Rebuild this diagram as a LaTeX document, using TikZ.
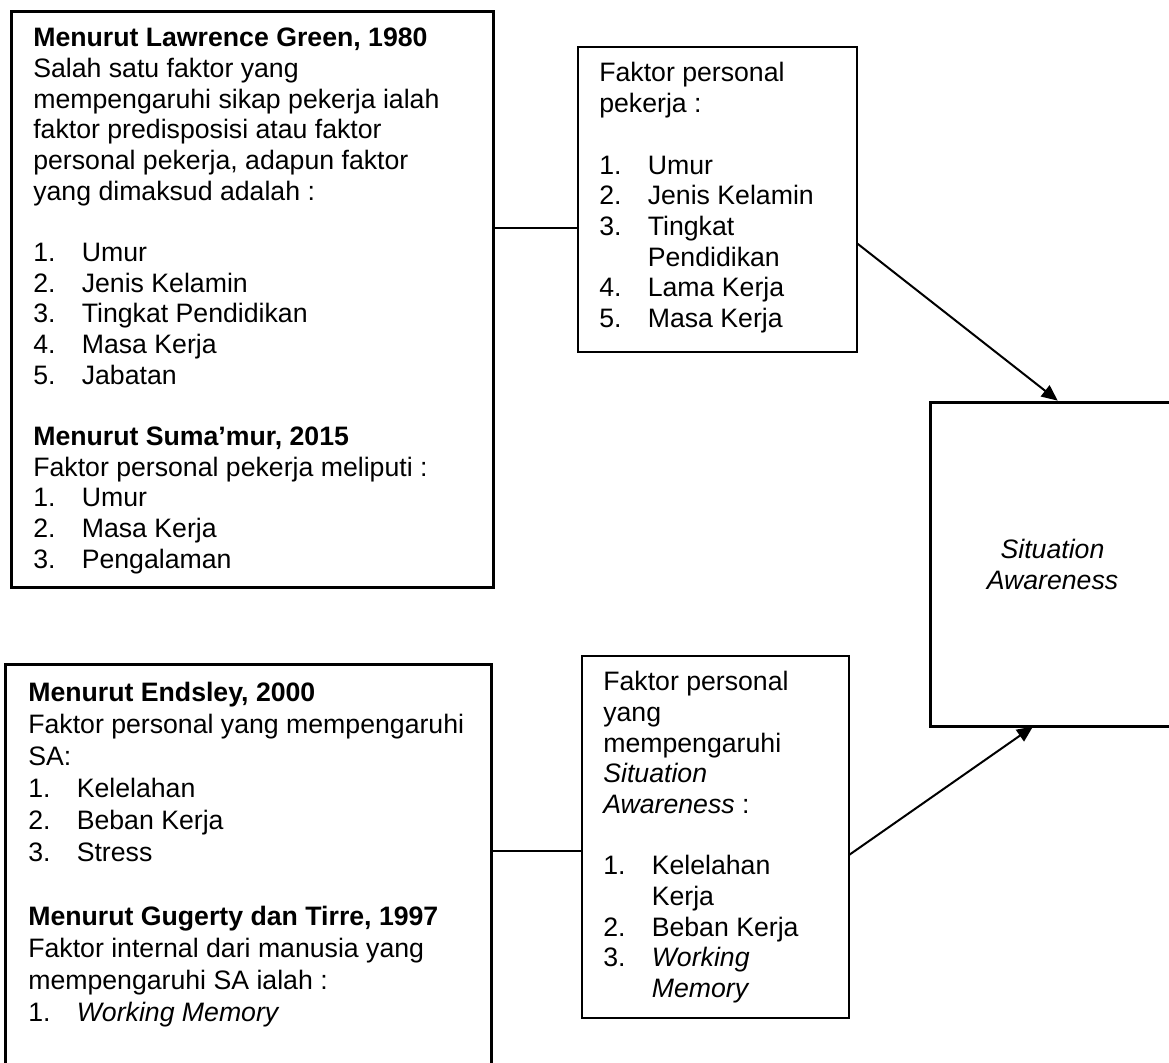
\documentclass[tikz,border=0pt]{standalone}
\usepackage{fontspec}
\setmainfont{Liberation Sans}
\usetikzlibrary{arrows.meta,calc}
\newcommand\litem[2]{\makebox[48.5pt][l]{#1}#2}
\begin{document}
\begin{tikzpicture}[x=1pt,y=-1pt,
  txt/.style={anchor=base west,inner sep=0pt,outer sep=0pt,font=\fontsize{26.67}{30.67}\selectfont},
  txtwide/.style={txt,font=\fontsize{26.67}{32}\selectfont},
  heavybox/.style={draw,rectangle,line width=3.6pt,inner sep=0pt,outer sep=0pt},
  lightbox/.style={draw,rectangle,line width=2.2pt,inner sep=0pt,outer sep=0pt},
  sabox/.style={draw,fill=white,rectangle,line width=3.2pt,inner sep=0pt,outer sep=0pt,align=center,font=\fontsize{26.67}{30.67}\selectfont},
  conn/.style={line width=2pt},
  arr/.style={line width=2pt,-{Triangle[length=16pt,width=14pt]}}]
\useasboundingbox (0,0) rectangle (1169,1062);
\clip (0,0) rectangle (1169,1062);
\fill[white] (0,0) rectangle (1169,1062);

% boxes
\node[heavybox,minimum width=482pt,minimum height=576pt] (boxA) at (252.5,299.5) {};
\node[lightbox,minimum width=279pt,minimum height=305pt] (boxB) at (717.5,199.5) {};
\node[heavybox,minimum width=486pt,minimum height=416pt] (boxC) at (248.5,872.5) {};
\node[lightbox,minimum width=267.3pt,minimum height=362pt] (boxD) at (715.35,837) {};

% connector levels
\coordinate (yab) at (0,228);
\coordinate (ybs) at (0,243.3);
\coordinate (ycd) at (0,851);
\coordinate (yds) at (0,855);

\draw[conn] (boxA.east |- yab) -- (boxB.west |- yab);
\draw[conn] (boxC.east |- ycd) -- (boxD.west |- ycd);

% Situation Awareness box
\node[sabox,minimum width=244pt,minimum height=324pt] (sa) at (1052.5,564.5) {\textit{Situation}\\\textit{Awareness}};

\draw[arr,shorten >=3pt] (boxB.east |- ybs) -- ($(sa.north west)!0.531!(sa.north east)$);
\draw[arr] (boxD.east |- yds) -- ($(sa.south west)!0.42!(sa.south east)$);

% texts
\node[txt] (ta) at (33.3,46.7) {\begin{tabular}[t]{@{}l@{}}
\textbf{Menurut Lawrence Green, 1980}\\
Salah satu faktor yang\\
mempengaruhi sikap pekerja ialah\\
faktor predisposisi atau faktor\\
personal pekerja, adapun faktor\\
yang dimaksud adalah :\\
\\
\litem{1.}{Umur}\\
\litem{2.}{Jenis Kelamin}\\
\litem{3.}{Tingkat Pendidikan}\\
\litem{4.}{Masa Kerja}\\
\litem{5.}{Jabatan}\\
\\
\textbf{Menurut Suma’mur, 2015}\\
Faktor personal pekerja meliputi :\\
\litem{1.}{Umur}\\
\litem{2.}{Masa Kerja}\\
\litem{3.}{Pengalaman}
\end{tabular}};

\node[txt] (tb) at (599.3,82) {\begin{tabular}[t]{@{}l@{}}
Faktor personal\\
pekerja :\\
\\
\litem{1.}{Umur}\\
\litem{2.}{Jenis Kelamin}\\
\litem{3.}{Tingkat}\\
\litem{}{Pendidikan}\\
\litem{4.}{Lama Kerja}\\
\litem{5.}{Masa Kerja}
\end{tabular}};

\node[txtwide] (tc) at (28.3,701) {\begin{tabular}[t]{@{}l@{}}
\textbf{Menurut Endsley, 2000}\\
Faktor personal yang mempengaruhi\\
SA:\\
\litem{1.}{Kelelahan}\\
\litem{2.}{Beban Kerja}\\
\litem{3.}{Stress}\\
\\
\textbf{Menurut Gugerty dan Tirre, 1997}\\
Faktor internal dari manusia yang\\
mempengaruhi SA ialah :\\
\litem{1.}{\textit{Working Memory}}
\end{tabular}};

\node[txt] (td) at (603.3,690.7) {\begin{tabular}[t]{@{}l@{}}
Faktor personal\\
yang\\
mempengaruhi\\
\textit{Situation}\\
\textit{Awareness} :\\
\\
\litem{1.}{Kelelahan}\\
\litem{}{Kerja}\\
\litem{2.}{Beban Kerja}\\
\litem{3.}{\textit{Working}}\\
\litem{}{\textit{Memory}}
\end{tabular}};
\end{tikzpicture}
\end{document}
